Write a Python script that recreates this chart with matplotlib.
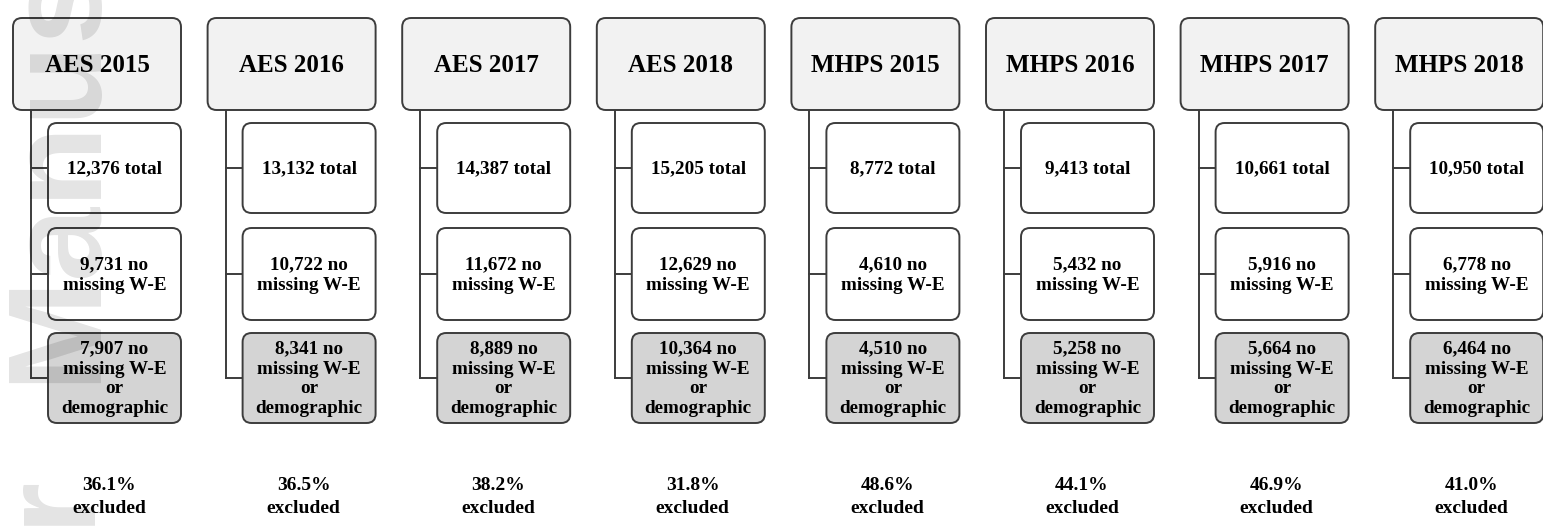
import matplotlib.pyplot as plt
from matplotlib.patches import FancyBboxPatch

# Data
surveys = ["AES 2015", "AES 2016", "AES 2017", "AES 2018",
           "MHPS 2015", "MHPS 2016", "MHPS 2017", "MHPS 2018"]
totals = [12376, 13132, 14387, 15205, 8772, 9413, 10661, 10950]
no_missing_we = [9731, 10722, 11672, 12629, 4610, 5432, 5916, 6778]
no_missing_demo = [7907, 8341, 8889, 10364, 4510, 5258, 5664, 6464]
pct_excluded = [36.1, 36.5, 38.2, 31.8, 48.6, 44.1, 46.9, 41.0]

# Layout (pixels)
W, H = 1543, 529
x0, pitch = 13, 194.6
head_w, head_top, head_bot = 168, 18, 110
child_dx = 35
child_rows = [(123, 213), (228, 320), (333, 423)]
spacings = [1.2, 1.32, 1.22]
line_dx = 18
edge = "#3c3c3c"
lw = 1.4

fig = plt.figure(figsize=(W / 100, H / 100), dpi=100)
ax = fig.add_axes([0, 0, 1, 1])
ax.set_xlim(0, W)
ax.set_ylim(H, 0)
ax.axis("off")

serif = "Liberation Serif"


def box(x, y, w, h, fc):
    p = FancyBboxPatch((x, y), w, h, boxstyle="round,pad=0,rounding_size=9",
                       fc=fc, ec=edge, lw=lw, zorder=2)
    ax.add_patch(p)


for i, name in enumerate(surveys):
    hx = x0 + i * pitch
    # header
    box(hx, head_top, head_w, head_bot - head_top, "#f2f2f2")
    ax.text(hx + head_w / 2, (head_top + head_bot) / 2 + 1, name, ha="center",
            va="center", fontsize=18, fontweight="bold", family=serif, zorder=4)

    labels = [f"{totals[i]:,} total",
              f"{no_missing_we[i]:,} no\nmissing W-E",
              f"{no_missing_demo[i]:,} no\nmissing W-E\nor\ndemographic"]
    fills = ["white", "white", "#d4d4d4"]
    cx = hx + child_dx
    cw = head_w - child_dx
    lx = hx + line_dx
    centers = []
    for (top, bot), lab, fc, ls in zip(child_rows, labels, fills, spacings):
        box(cx, top, cw, bot - top, fc)
        cy = (top + bot) / 2
        centers.append(cy)
        ax.text(cx + cw / 2, cy + 1, lab, ha="center", va="center", fontsize=13.8,
                fontweight="bold", family=serif, linespacing=ls, zorder=4)
        ax.plot([lx, cx], [cy, cy], color=edge, lw=lw, zorder=1)
    ax.plot([lx, lx], [head_bot, centers[-1]], color=edge, lw=lw, zorder=1)

    ax.text(hx + 96, 497, f"{pct_excluded[i]:.1f}%\nexcluded", ha="center",
            va="center", fontsize=14, fontweight="bold", family=serif,
            linespacing=1.5, zorder=4)

# faint watermark on the left
wm = dict(rotation=90, rotation_mode="anchor", va="baseline", fontsize=96,
          fontweight="bold", family="Liberation Sans", color="black",
          alpha=0.11, zorder=3)
ax.text(93, 383, "Manuscript", ha="left", **wm)
ax.text(93, 478, "Author", ha="right", **wm)

fig.savefig("out.png", dpi=100)
